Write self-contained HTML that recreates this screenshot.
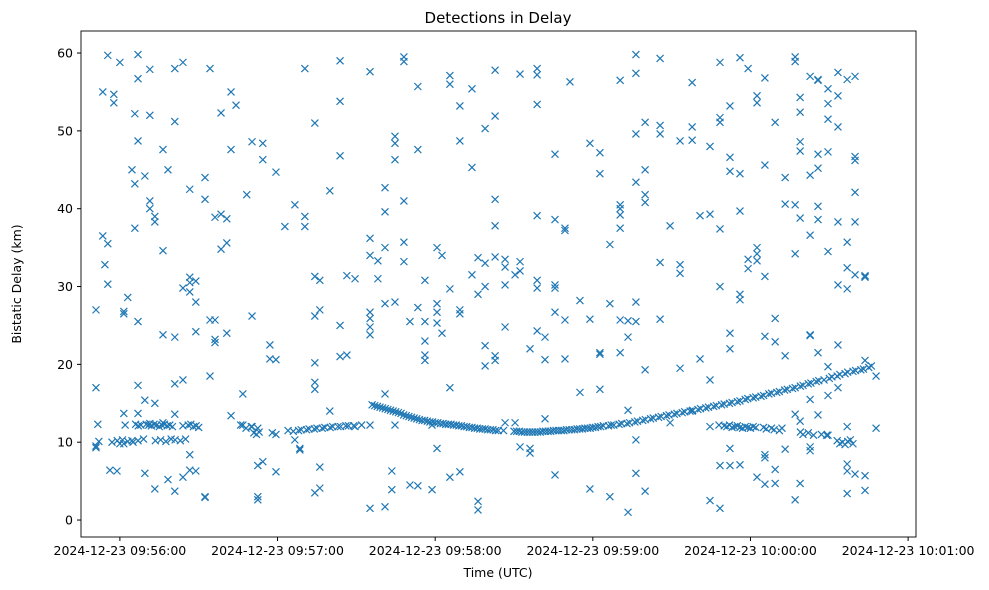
<!DOCTYPE html>
<html><head><meta charset="utf-8"><style>
html,body{margin:0;padding:0;background:#fff;}
svg{display:block;font-family:"DejaVu Sans","Liberation Sans",sans-serif;}
</style></head><body>
<svg id="chart" width="989" height="590" viewBox="0 0 989 590" xmlns="http://www.w3.org/2000/svg">
<rect width="989" height="590" fill="#fff"/>
<text x="498" y="23" text-anchor="middle" font-size="15" fill="#000">Detections in Delay</text>
<g id="marks"></g>
<g id="axes"></g>
<text x="498" y="577" text-anchor="middle" font-size="12.5" fill="#000">Time (UTC)</text>
<text transform="translate(21,284) rotate(-90)" text-anchor="middle" font-size="12.5" fill="#000">Bistatic Delay (km)</text>
</svg>
<script>
// time in seconds after 09:55:00 UTC, delay in km
const xTickSeconds = [60,120,180,240,300,360];
const xTickLabels = ["2024-12-23 09:56:00","2024-12-23 09:57:00","2024-12-23 09:58:00","2024-12-23 09:59:00","2024-12-23 10:00:00","2024-12-23 10:01:00"];
const yTicks = [0,10,20,30,40,50,60];

const noiseTimes = [50.9,51.6,53.5,54.3,55.4,56.2,57.7,58.9,60,61.5,63,64.6,65.7,66.9,69.5,71.4,73.3,76.4,78.3,80.9,84,86.6,88.9,92.4,94.3,96.2,98.5,100.7,102.3,104.2,106.8,108.3,110.3,112.5,114.4,117.1,119.4,122.8,126.6,128.5,130.4,134.2,136.1,139.9,143.8,146.4,149.5,155.2,158.2,160.9,163.5,164.7,168.1,170.4,173.4,176.1,178.8,180.7,182.6,185.6,189.4,194,196.3,199,202.8,206.6,210.4,212.3,216.1,218.8,221.8,225.6,229.4,231.3,235.1,238.9,242.7,246.5,250.4,253.4,256.4,259.9,265.6,269.4,273.2,277.8,280.8,284.6,288.4,292.2,296,299.1,302.5,305.5,309.4,313.2,317,318.9,322.7,325.7,329.5,333.3,336.8,339.8,343.6,347.8];
const noiseDelays = [
[27,17,9.5,9.3],[12.3],[55,36.5],[32.8],[59.7,35.5,30.3],[6.4],[53.6,54.7],[6.3],[58.8,9.8],[13.7,26.8,26.5,9.8],
[28.6],[45,10.2],[52.2,43.2,37.5],[59.8,56.7,48.7,25.5,17.3,10.2,13.7],[44.2,15.4,6],[57.9,52,41,40,12.4],[39,38.3,4,15],[47.6,34.6,23.8,12.5],[45,5.2],[58,51.2,23.5,17.5,13.6,3.7],
[58.8,29.8,18,5.5],[31.2,30.5,42.5,29.3,8.4,6.4],[28,30.7,24.2,6.3],[44,41.2,3,2.9],[58,18.5,25.7],[38.9,25.7,23.2,22.8],[52.3,39.3,34.8],[38.7,24,35.6],[55,47.6,13.4],[53.3],
[16.2,12.2],[41.8],[48.6,26.2,12],[3,2.6,7,11.8],[48.4,46.3,7.5],[22.5,20.7],[20.6,44.7,11,6.2],[37.7],[40.5,10.3],[9.2,9],
[39,37.7,58],[20.2,26.2,31.3,51,17.7,16.8,3.5],[30.8,27,4.1,6.8],[42.3,14],[59,46.8,53.8,25,21],[21.2,31.4],[31,12],[34,26.7,25.9,24.8,23.8,36.2,57.6,1.5,12.2],[31,33.3],[42.7,39.6,35,27.8,1.7,16.2],
[6.3,3.9],[49.3,48.4,46.3,28,12.2],[59.5,58.9,41,35.7,33.2],[25.5,4.5],[55.7,47.6,27.3,4.4],[30.8,25.5,23,21.2,20.5],[3.9,12.2],[35,27.8,26.7,25.3,9.2],[24,34],[57.1,56,29.7,17,5.5],
[53.2,48.7,26.5,27,6.2],[55.4,45.3,31.5],[1.3,2.4,29,33.7],[50.3,22.4,19.8,30,33],[51.9,41.2,37.8,33.8,21.1,20.5,57.8],[32.5,33.5,30.2,24.8,12.5],[31.5,12.5],[57.3,33.2,32,9.4],[9.2,22,8.6],[58,57.2,53.4,39.1,30.8,24.3,29.8],
[23.5,20.6,13],[47,38.6,30.2,29.8,26.7,5.8],[37.5,37.2,25.7,20.7],[56.3],[28.2,16.4],[48.4,25.8,4],[47.2,44.5,21.5,21.3,16.8],[35.4,27.8,3],[40.5,40,37.5,25.7,21.5,56.5,39.2],[25.6,23.5,14.1,1],
[59.8,57.4,49.6,43.4,28,25.5,10.3,6],[51.1,45,41.8,40.8,3.7,19.3],[59.3,50.7,49.6,33.1,25.8],[37.8,12.5],[48.7,32.8,31.7,19.5],[50.5,48.8,56.2,14],[39.1,20.7],[48,39.3,18,12,2.5],[58.8,51.7,51.1,37.4,30,1.5,7],[46.6,44.8,53.2,24,22,9.2,7],
[59.4,44.5,39.7,29,28.3,7.1],[58,33.5,32.3],[54.5,53.6,35,34.2,33.3,5.5],[56.8,45.6,31.3,23.6,8.4,4.6,8],[51.1,25.9,22.9,4.7,6.5],[21.1,44,40.6,9.1],[59.5,58.9,40.5,34.2,2.6,13.6],[54.3,52.4,48.6,47.4,38.8,12.7,4.7],[57,44.3,36.6,23.8,23.7,15.5,9.4,8.9],[56.5,56.6,47,45.2,40.3,38.6,21.5,13.5],
[47.3,55.4,53.5,51.5,34.5,19.7,16,10.9],[57.5,54.5,50.5,30.2,38.3,22.5,17],[56.6,35.7,32.4,29.7,6.3,3.4,7.2,12],[57,46.7,46.2,42.1,38.3,31.5,5.9],[31.4,31.2,31.3,20.5,5.7,3.8],[18.5,11.8]
];

const clutterTimes = [62,66,67,68,70,71,72,73,74,75,76,77,78,79,80,84,86,87,88,89,90,52,57,59,61,63,65,69,73.5,75.5,77.5,79.5,81,83,85,106,108,110,111,112,113,118,288,290,291,292,293,294,295,296,297,298,299,300,301,302,305,306,308,309,311,312,319,320,322,324,327,329,333,334,335,336,337,338,339];
const clutterDelays = [12.2,12.3,12.1,12.2,12.3,12.2,12.1,12.3,12.2,12.0,12.2,12.3,12.1,12.2,12.0,12.1,12.2,12.3,12.0,12.1,11.9,10.1,10.0,10.2,10.3,10.1,10.0,10.4,10.2,10.3,10.1,10.4,10.3,10.2,10.4,12.2,11.8,12.0,11.2,11.0,11.3,11.2,12.2,12.1,12.0,12.2,11.9,12.0,12.1,11.9,11.8,12.0,11.9,11.8,12.0,11.9,11.9,11.7,11.8,11.6,11.5,11.8,11.3,11.0,11.2,10.9,11.0,10.9,10.2,9.8,10.0,9.7,10.1,10.3,9.8];

const trackTimes = [124,126,128,129,131,132,134,135,137,138,140,141,143,144,146,147,149,152,
156,157,158,159,160,161,162,163,164,165,166,167,168,169,170,171,172,173,174,175,176,177,178,179,180,181,182,183,184,185,186,187,188,189,190,191,192,193,194,195,196,197,198,199,200,201,202,203,204,206,210,211,212,213,214,215,216,217,218,219,220,221,222,223,224,225,226,227,228,229,230,231,232,233,234,235,236,237,238,239,240,241,242,
243,244,246,247,248,250,251,253,254,256,257,259,260,262,263,265,266,268,269,271,272,274,275,277,278,280,281,283,284,286,287,289,290,292,293,295,296,298,299,301,302,304,305,307,308,310,311,313,314,316,317,319,320,322,323,325,326,328,330,331,333,334,336,337,339,340,342,343,345,346];
const trackDelays = [11.5,11.4,11.5,11.6,11.6,11.7,11.7,11.8,11.8,11.9,11.9,12.0,12.0,12.0,12.1,12.1,12.1,12.2,
14.8,14.7,14.6,14.5,14.4,14.3,14.2,14.1,14.0,13.9,13.8,13.7,13.5,13.4,13.3,13.2,13.1,13.0,12.9,12.8,12.8,12.7,12.6,12.6,12.5,12.5,12.4,12.4,12.3,12.3,12.3,12.2,12.2,12.1,12.1,12.0,12.0,11.9,11.9,11.8,11.8,11.7,11.7,11.7,11.6,11.6,11.6,11.5,11.5,11.5,11.4,11.4,11.4,11.3,11.3,11.3,11.3,11.3,11.3,11.3,11.3,11.4,11.4,11.4,11.4,11.5,11.5,11.5,11.5,11.5,11.6,11.6,11.6,11.6,11.7,11.7,11.7,11.8,11.8,11.8,11.9,11.9,12.0,
12.0,12.1,12.1,12.2,12.2,12.3,12.4,12.4,12.5,12.6,12.7,12.8,12.9,13.0,13.1,13.2,13.3,13.4,13.5,13.6,13.7,13.8,13.9,14.0,14.1,14.2,14.3,14.4,14.5,14.6,14.7,14.8,14.9,15.0,15.1,15.2,15.3,15.5,15.6,15.7,15.8,15.9,16.0,16.2,16.3,16.4,16.5,16.7,16.8,16.9,17.0,17.2,17.3,17.5,17.6,17.8,17.9,18.0,18.2,18.4,18.5,18.7,18.8,19.0,19.1,19.2,19.3,19.4,19.6,19.8];

const NS='http://www.w3.org/2000/svg';
const L=81,R=916,T=31,B=537;
const xMin=45.2,xMax=363.0,yMin=-2.18,yMax=62.83;
function xs(t){return L+(t-xMin)/(xMax-xMin)*(R-L);}
function ys(v){return B-(v-yMin)/(yMax-yMin)*(B-T);}
const marks=document.getElementById('marks');
const axes=document.getElementById('axes');
function mk(t,v,name){
  const x=xs(t),y=ys(v),s=3.5;
  const p=document.createElementNS(NS,'path');
  p.setAttribute('d',`M${x-s},${y-s}L${x+s},${y+s}M${x-s},${y+s}L${x+s},${y-s}`);
  p.setAttribute('stroke','#1f77b4');p.setAttribute('stroke-width','1.2');p.setAttribute('fill','none');
  
  
  marks.appendChild(p);
}
noiseTimes.forEach((t,i)=>noiseDelays[i].forEach(v=>mk(t,v,'detection-point')));
clutterTimes.forEach((t,i)=>mk(t,clutterDelays[i],'clutter-point'));
trackTimes.forEach((t,i)=>mk(t,trackDelays[i],'track-point'));

const frame=document.createElementNS(NS,'rect');
frame.setAttribute('x',L);frame.setAttribute('y',T);frame.setAttribute('width',R-L);frame.setAttribute('height',B-T);
frame.setAttribute('fill','none');frame.setAttribute('stroke','#000');frame.setAttribute('stroke-width','0.9');


axes.appendChild(frame);
xTickSeconds.forEach((t,i)=>{
  const x=xs(t);
  const l=document.createElementNS(NS,'line');
  l.setAttribute('x1',x);l.setAttribute('x2',x);l.setAttribute('y1',B);l.setAttribute('y2',B+4);l.setAttribute('stroke','#000');
  
  
  axes.appendChild(l);
  const tx=document.createElementNS(NS,'text');
  tx.setAttribute('x',x);tx.setAttribute('y',B+18);tx.setAttribute('text-anchor','middle');tx.setAttribute('font-size','12.5');
  tx.textContent=xTickLabels[i];
  
  
  axes.appendChild(tx);
});
yTicks.forEach(v=>{
  const y=ys(v);
  const l=document.createElementNS(NS,'line');
  l.setAttribute('x1',L-4);l.setAttribute('x2',L);l.setAttribute('y1',y);l.setAttribute('y2',y);l.setAttribute('stroke','#000');
  
  
  axes.appendChild(l);
  const tx=document.createElementNS(NS,'text');
  tx.setAttribute('x',L-8);tx.setAttribute('y',y+4.5);tx.setAttribute('text-anchor','end');tx.setAttribute('font-size','12.5');
  tx.textContent=String(v);
  
  
  axes.appendChild(tx);
});
</script>
</body></html>
